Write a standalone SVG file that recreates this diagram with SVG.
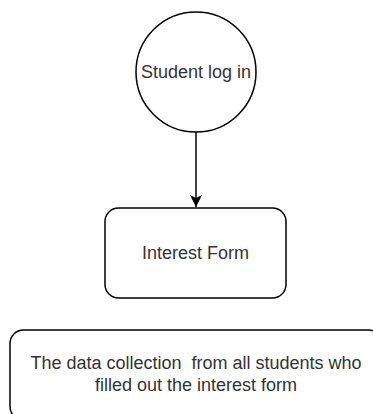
<svg xmlns="http://www.w3.org/2000/svg" width="373" height="414" viewBox="0 0 373 414">
<style>
.shape{fill:#ffffff;stroke:#000000;stroke-width:1.5}
.lbl{font-family:"Liberation Sans",Arial,Helvetica,sans-serif;font-size:18px;fill:#333333;text-anchor:middle;dominant-baseline:central;white-space:pre}
.edge{fill:none;stroke:#000000;stroke-width:1.5}
</style>
<defs>
<marker id="arrow" markerUnits="userSpaceOnUse" markerWidth="14" markerHeight="14" refX="12" refY="6" orient="auto">
<path d="M0,0 L12,6 L0,12 L3,6 Z" fill="#000000"/>
</marker>
</defs>
<rect width="373" height="414" fill="#ffffff"/>
<g id="connectors">
<path class="edge" d="M196,132 L196,207" marker-end="url(#arrow)"/>
</g>
<g id="student-login">
<circle class="shape" cx="196" cy="72" r="60"/>
<text class="lbl" x="196" y="72">Student log in</text>
</g>
<g id="interest-form">
<rect class="shape" x="105" y="208" width="181" height="90" rx="13.5" ry="13.5"/>
<text class="lbl" x="195.5" y="253">Interest Form</text>
</g>
<g id="data-collection">
<rect class="shape" x="10" y="330" width="372" height="90" rx="13.5" ry="13.5"/>
<text class="lbl" x="196" y="363" xml:space="preserve">The data collection  from all students who</text>
<text class="lbl" x="196" y="385">filled out the interest form</text>
</g>
</svg>
